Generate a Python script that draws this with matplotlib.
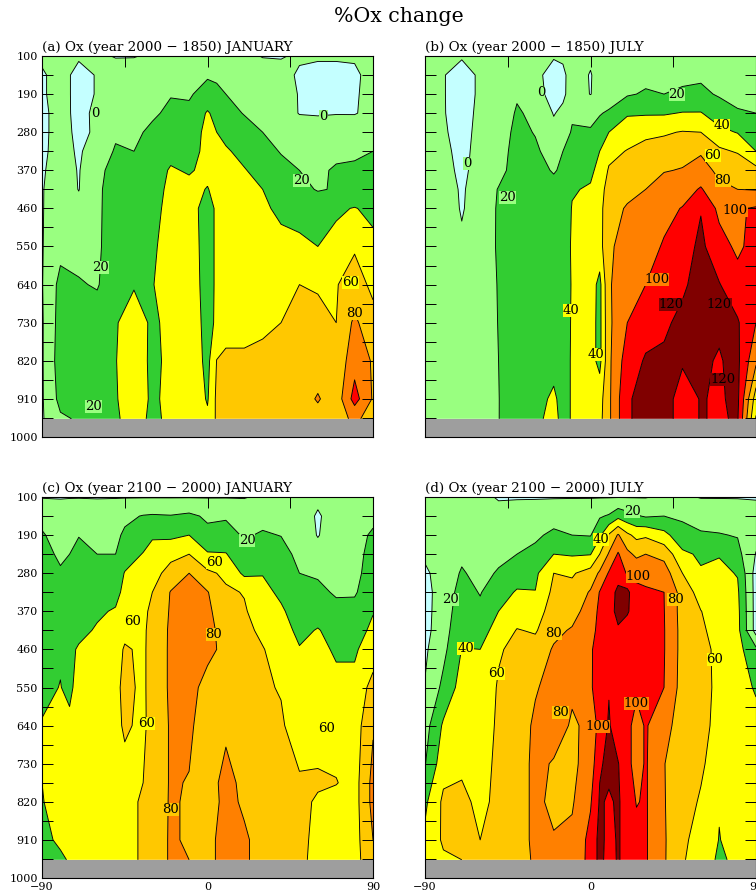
import numpy as np
import matplotlib
matplotlib.use("Agg")
import matplotlib.pyplot as plt

plt.rcParams['font.family'] = ['DejaVu Serif']

pressure = [100, 145, 190, 235, 280, 325, 370, 415, 460, 550, 640, 730, 820, 910, 957]
pressure_c = [100, 145, 190, 235, 280, 325, 370, 415, 460, 550, 640, 775, 820, 910, 957]

lat_a = [-90, -80, -70, -60, -50, -40, -30, -20, -10, 0, 5, 10, 20, 30, 40, 50, 60, 70, 80, 90]
# panel (a): one row per pressure level
ox_a = [
    [3, 3, 2, 3, -1, -1, 3, 3, 5, 5, 5, 5, 5, -1, -1, 2, 2, 2, 2, 3],
    [-2, 6, -5, 1, 8, 10, 10, 11, 14, 18, 17, 17, 13, 10, 5, -2, -5, -5, -3, 6],
    [-2, 6, -5, 1, 9, 12, 13, 19, 18, 27, 24, 20, 15, 12, 8, -1, -3, -3, -2, 6],
    [-3, 5, -4, 3, 10, 13, 17, 24, 24, 42, 34, 27, 19, 15, 11, -1, -2, -1, -1, 5],
    [-3, 5, -3, 2, 17, 16, 24, 28, 30, 45, 40, 35, 28, 20, 16, 13, 12, 13, 12, 13],
    [-3, 6, -2, 8, 22, 20, 27, 34, 33, 45, 44, 42, 35, 26, 19, 15, 14, 16, 18, 20],
    [-2, 8, -1, 14, 28, 25, 30, 42, 38, 45, 46, 47, 41, 34, 25, 20, 17, 22, 22, 21],
    [-1, 9, -0.5, 16, 30, 28, 33, 44, 46, 39, 46, 50, 46, 40, 32, 24, 19, 21, 24, 24],
    [-1, 10, 5, 16, 31, 32, 34, 46, 50, 30, 44, 52, 50, 44, 35, 33, 29, 37, 41, 35],
    [-1, 14, 12, 16, 33, 35, 37, 48, 52, 30, 44, 54, 54, 52, 47, 44, 40, 46, 58, 45],
    [-1, 26, 22, 18, 36, 38, 39, 50, 54, 30, 44, 55, 56, 57, 58, 60, 58, 59, 68, 56],
    [-2, 28, 30, 32, 38, 52, 36, 46, 55, 32, 44, 56, 56, 57, 60, 66, 66, 60, 84, 66],
    [-2, 30, 32, 34, 39, 56, 34, 46, 56, 34, 60.5, 62, 62, 64, 67, 70, 68, 66, 92, 78],
    [-2, 26, 28, 30, 38, 54, 36, 46, 57, 38, 64, 66, 66, 66, 68, 70, 82, 68, 108, 78],
    [-2, 17, 22, 30, 36, 52, 34, 46, 58, 44, 63, 66, 66, 67, 68, 70, 72, 72, 84, 72],
]

lat_b = [-90, -80, -70, -60, -50, -40, -30, -20, -15, -10, 0, 5, 10, 20, 30, 40, 50, 60, 70, 80, 90]
# panels (b), (c), (d): one row per latitude
ox_b = [
    [3, 4, 4, 5, 5, 5, 6, 6, 6, 7, 7, 8, 8, 8, 8],
    [3, 1, 1, 1, 2, 4, 6, 8, 10, 12, 14, 15, 16, 16, 16],
    [2, -8, -8, -7, -6, -5, -4, -2, -1.5, 3, 6, 7, 8, 9, 9],
    [3, 3, 3, 4, 5, 6, 7, 8, 9, 10, 10, 11, 11, 12, 12],
    [5, 6, 7, 8, 10, 12, 14, 21, 22, 22, 21, 20.5, 20, 19.5, 19.5],
    [8, 16, 18, 22, 25, 27, 28, 29, 30, 31, 31, 32, 32, 33, 34],
    [6, 6, 8, 16, 19, 23, 24, 25, 27, 30, 32, 33, 34, 36, 37],
    [2, -9, -8, -1, 5, 12, 19, 24, 26, 28, 30, 32, 36, 42, 44],
    [3, -4, -3.5, 4, 10, 20, 22, 26, 28, 31, 33, 35, 36, 36, 36],
    [4, 8, 8, 17, 22, 30, 34, 38.5, 41, 42, 41, 41, 41, 41, 41],
    [3, -1, -0.5, 17, 21, 28, 36, 42, 46, 50, 50, 48, 48, 52, 52],
    [4, 6, 6, 19, 26, 40, 46, 50, 52, 52, 34, 34, 34, 52, 54],
    [4, 7, 12, 22, 40, 54, 62, 70, 76, 78, 78, 76, 76, 76, 76],
    [5, 12, 18, 38, 50, 61, 70, 77, 81, 85, 92, 100, 110, 118, 118],
    [6, 15, 22, 38, 56, 66, 76, 80, 85, 92, 100, 112, 122, 126, 126],
    [6, 15, 20, 38, 58, 68, 79, 88, 94, 102, 110, 118, 122, 128, 128],
    [7, 17, 22, 41, 61, 74, 81, 91, 101, 112, 118, 123, 122, 112, 112],
    [8, 17, 24, 41, 60, 78, 87, 102, 119, 124, 125, 126, 122, 121, 121],
    [7, 15, 18, 30, 45, 64, 76, 84, 95, 108, 121, 122, 119, 118, 118],
    [6, 13, 17, 21, 39, 58, 76, 80, 98, 96, 108, 122, 124, 124, 122],
    [6, 14, 19, 20, 32, 40, 66, 79, 102, 108, 102, 100, 84, 50, 38],
]

lat_c = [-90, -80, -75, -70, -60, -50, -45, -35, -30, -20, -10, 0, 10, 20, 30, 40, 50, 60, 70, 80, 90]
ox_c = [
    [-1, 14, 22, 26, 30, 32, 34, 34, 35, 36, 41, 40, 39, 34, 32],
    [-1, 8, 12, 17, 22, 25, 27, 30, 38, 40.5, 42, 48, 48, 44, 36],
    [-1, 12, 16, 20, 26, 28, 30, 34, 36, 36, 44, 52, 52, 50, 42],
    [-1, 14, 19.5, 24, 24, 28, 31, 35, 42, 47, 50, 53, 53, 52, 50],
    [-1, 9, 14, 20, 24, 30, 37, 42, 46, 50, 52, 54, 54, 54, 54],
    [-1, 12, 16, 20, 28, 33, 42, 47, 52, 56, 56, 55, 54, 54, 54],
    [-1, 16, 23, 30, 41, 46, 52, 55, 62, 64, 62, 55, 55, 55, 55],
    [-1, 21, 30, 41, 47, 53, 56, 57, 57, 57, 57, 60, 62, 62, 62],
    [-1, 22, 38, 46, 52, 60, 64, 66, 67, 67, 66, 66, 68, 70, 70],
    [-1, 21, 36, 54, 68, 81, 82, 83, 83, 83, 82, 82, 82, 82, 82],
    [-1, 24, 40, 60, 80, 88, 90, 90, 90, 88, 84, 79, 78, 78, 80],
    [-1, 17, 25, 42, 64, 81, 84, 86, 86, 72, 68, 66, 66, 74, 74],
    [-1, 18, 27, 41, 56, 63, 68, 72, 74, 70, 74, 90, 88, 88, 88],
    [-1, 11, 18, 26, 36, 59, 62, 65, 66, 66, 66, 72, 76, 84, 84],
    [3, 14, 22, 26, 39, 46, 50, 56, 61, 62, 63, 65, 66, 70, 70],
    [3, 10, 19.5, 27, 31, 36, 43, 47, 52, 59, 62, 66, 67, 66, 65],
    [3, 9, 12, 15, 20, 24, 30, 36, 41, 46, 52, 62, 64, 66, 66],
    [4, -2, -1, 7, 18, 24, 33, 41, 44, 49, 54, 62, 58, 54, 52],
    [3, 8, 10, 12, 15, 18, 25, 34, 38, 44, 50, 61, 52, 46, 44],
    [4, 8, 10, 12, 14, 18, 26, 32, 38, 44, 50, 52, 52, 52, 52],
    [4, 13, 24, 28, 30, 32, 39, 44, 48, 68, 78, 86, 86, 80, 76],
]

lat_d = [-90, -80, -70, -60, -50, -40, -30, -20, -10, 0, 5, 10, 15, 20, 25, 30, 40, 50, 60, 70, 80, 90]
ox_d = [
    [3, 3, 3, 3, -3, -6, -6, -6, -3, 1, 12, 19, 36, 44, 44],
    [3, 4, 5, 6, 8, 9, 10, 12, 15, 25, 43, 52, 64, 63, 57],
    [3, 5, 8, 16, 22, 27, 31, 35, 40.5, 48, 52, 57, 64, 63, 60],
    [3, 4, 7, 10, 14, 19, 24, 33, 40, 46, 50, 53, 56, 60, 62],
    [-1, 4, 8, 15, 22, 31, 40, 47, 58, 62, 63, 64, 64, 66, 66],
    [-1, 6, 15, 20, 30, 42, 50, 61, 65, 67, 68, 68, 68, 68, 68],
    [-1, 7, 16, 26, 36, 40.5, 50, 58, 68, 78, 84, 86, 86, 86, 84],
    [-1, 10, 25, 40, 60, 65, 70, 75, 82, 88, 92, 78, 74, 82, 84],
    [-1, 12, 20, 38, 58, 66, 72, 82, 84, 84, 77, 76, 78, 84, 86],
    [-1, 13, 19, 39, 68, 82, 90, 93, 98, 98, 85, 88, 98, 106, 106],
    [-1, 18, 36, 60, 83, 101, 104, 106, 107, 108, 108, 118, 122, 126, 126],
    [-1, 22, 62, 82, 102, 104, 106, 108, 110, 119, 122, 124, 118, 114, 112],
    [-1, 34, 82, 102, 106, 128, 130, 116, 110, 110, 108, 121, 122, 122, 122],
    [-1, 27, 64, 85, 99, 125, 123, 108, 108, 108, 106, 106, 112, 112, 112],
    [-1, 22, 55, 76, 95, 105, 106, 106, 106, 104, 92, 92, 99, 106, 106],
    [-1, 18, 57, 80, 93, 103, 105, 106, 106, 106, 102, 102, 102, 102, 102],
    [3, 20, 46, 74, 90, 100, 100.5, 101, 101, 100, 86, 80.5, 81, 82, 82],
    [3, 17, 27, 44, 60, 72, 72, 73, 73, 72, 72, 71, 68, 64, 62],
    [-1, 13, 22, 37, 42, 52, 60.5, 63, 65, 66, 65, 63, 58, 52, 50],
    [-1, 12, 21, 39, 44, 46, 50, 53, 56, 56, 55, 50, 41, 39.5, 37],
    [-1, 10, 19, 26, 39, 43, 45, 46, 47, 48, 48, 47, 46, 46, 44],
    [-1, 5, 6, -1, -8, -8, -8, -8, 24, 38, 46, 48, 50, 48, 58],
]

titles = ["(a) Ox (year 2000 \u2212 1850) JANUARY", "(b) Ox (year 2000 \u2212 1850) JULY",
          "(c) Ox (year 2100 \u2212 2000) JANUARY", "(d) Ox (year 2100 \u2212 2000) JULY"]

# contour labels: (value, latitude, pressure)
labels_a = [(0, -61, 235), (0, 63, 242), (20, 51, 393), (20, -58, 600), (60, 78, 634), (80, 80, 709), (20, -62, 929)]
labels_b = [(0, -27, 187), (0, -67, 355), (20, -45, 435), (20, 47, 190), (40, 71.5, 265), (60, 66.6, 334),
            (80, 72, 395), (100, 78.6, 466), (100, 36, 627), (120, 44, 688), (120, 70, 686), (120, 72, 865),
            (40, -10.6, 702), (40, 3, 806)]
labels_c = [(20, 21.5, 202), (60, 4, 254), (60, -40.5, 395), (80, 3.5, 424), (60, -33, 634), (80, -20, 839), (60, 65, 648)]
labels_d = [(20, 22.6, 135), (40, 5.7, 201), (100, 26, 288), (80, 46, 341), (20, -76, 343), (80, -20, 423),
            (40, -68, 457), (60, -51, 518), (60, 67.7, 483), (80, -16.5, 608), (100, 25, 587), (100, 4, 643)]

levels = [-100, 0, 20, 40, 60, 80, 100, 120, 300]
line_levels = [0, 20, 40, 60, 80, 100, 120]
band_colors = ['#C4FFFF', '#99FF80', '#32CD32', '#FFFF00', '#FFC800', '#FF8000', '#FF0000', '#800000']
label_band = {0: 1, 20: 1, 40: 3, 60: 3, 80: 4, 100: 5, 120: 7}
GREY = '#9E9E9E'

W, H = 756, 893
fig = plt.figure(figsize=(W / 100, H / 100), dpi=100)

boxes = [(42, 56), (425, 56), (42, 497), (425, 497)]
panels = [
    (lat_a, pressure, np.array(ox_a, float), labels_a),
    (lat_b, pressure, np.array(ox_b, float).T, labels_b),
    (lat_c, pressure_c, np.array(ox_c, float).T, labels_c),
    (lat_d, pressure, np.array(ox_d, float).T, labels_d),
]

for i, ((x0, y0), (lat, pres, z, labs)) in enumerate(zip(boxes, panels)):
    ax = fig.add_axes([x0 / W, 1 - (y0 + 381) / H, 331 / W, 381 / H])
    ax.contourf(lat, pres, z, levels=levels, colors=band_colors, antialiased=True)
    ax.contour(lat, pres, z, levels=line_levels, colors='k', linewidths=0.65, linestyles='solid')
    ax.axhspan(957, 1000, color=GREY, zorder=3, lw=0)
    ax.set_xlim(-90, 90)
    ax.set_ylim(1000, 100)

    ax.set_xticks([-90, -45, 0, 45, 90])
    ax.set_yticks(list(range(100, 1001, 90)))
    ax.set_yticks(list(range(145, 1000, 90)), minor=True)
    ax.tick_params(axis='both', which='major', direction='in', top=True, right=True, length=8, width=0.7, zorder=5)
    ax.tick_params(axis='y', which='minor', direction='in', left=True, right=True, length=8, width=0.7)
    ax.xaxis.get_major_ticks()[2].tick1line.set_markersize(12)
    ax.xaxis.get_major_ticks()[2].tick2line.set_markersize(12)
    ax.set_xticklabels(['\u221290', '', '0', '', '90'] if i >= 2 else [])
    if i in (0, 2):
        ax.set_yticklabels([str(v) for v in range(100, 1001, 90)])
    else:
        ax.set_yticklabels([])
    ax.tick_params(axis='both', labelsize=8, pad=3)
    for s in ax.spines.values():
        s.set_linewidth(0.8)
        s.set_zorder(6)

    ax.text(0, 1.006, titles[i], transform=ax.transAxes, ha='left', va='bottom', fontsize=9.7)

    for v, la, p in labs:
        ax.text(la, p, str(v), ha='center', va='center', fontsize=9.5, zorder=4,
                bbox=dict(facecolor=band_colors[label_band[v]], edgecolor='none', pad=0))

fig.text(399 / W, 1 - 17 / H, "%Ox change", ha='center', va='center', fontsize=14.8)
fig.savefig('out.png', dpi=100)
